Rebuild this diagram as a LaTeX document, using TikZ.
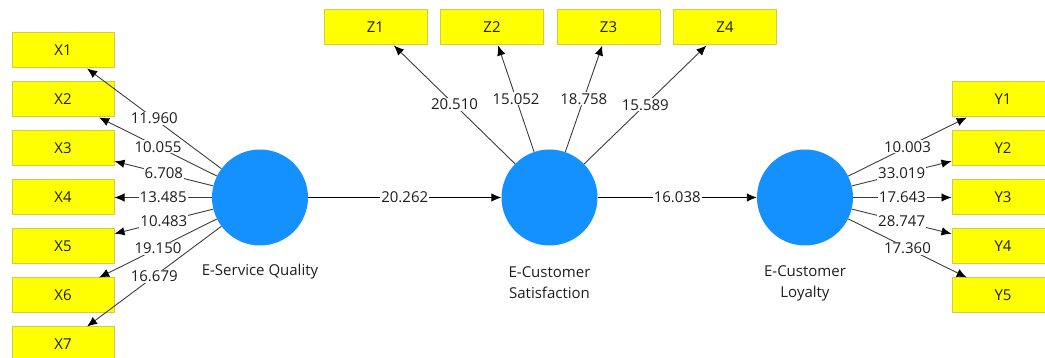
\documentclass[tikz,border=0pt]{standalone}
\usepackage{fontspec}
\setmainfont{Open Sans}
\usetikzlibrary{arrows.meta}
\definecolor{boxfill}{RGB}{255,255,0}
\definecolor{boxline}{RGB}{205,205,70}
\definecolor{lvblue}{RGB}{20,144,255}
\definecolor{indline}{RGB}{60,60,60}
\definecolor{txt}{RGB}{30,30,30}
\tikzset{
  mv/.style={draw=boxline, fill=boxfill, line width=1pt, minimum width=102pt, minimum height=35pt, inner sep=0pt, font=\fontsize{15}{18}\selectfont, text=txt},
  lv/.style={circle, fill=lvblue, minimum size=96pt, inner sep=0pt},
  lvlabel/.style={font=\fontsize{15}{21}\selectfont, text=txt, align=center, inner sep=0pt},
  ind/.style={draw=indline, line width=0.9pt, -{Latex[length=10pt,width=8.5pt,black]}},
  path/.style={draw=black, line width=0.9pt, -{Latex[length=10pt,width=8.5pt,black]}},
  coef/.style={fill=white, inner sep=1pt, font=\fontsize{15}{18}\selectfont, text=txt, pos=0.5}
}
\begin{document}
\begin{tikzpicture}[x=1pt,y=-1pt]
\useasboundingbox (0,0) rectangle (1045,358);
% latent variables
\node[lv] (esq) at (260,197.5) {};
\node[lv] (ecs) at (549.5,197.5) {};
\node[lv] (ecl) at (805,197.5) {};
\node[lvlabel] (esqlab) at (260,272) {E-Service Quality};
\node[lvlabel] (ecslab) at (549.5,283) {E-Customer\\Satisfaction};
\node[lvlabel] (ecllab) at (805,283) {E-Customer\\Loyalty};
% X indicators
\node[mv] (x1) at (63,50.5) {X1};
\node[mv] (x2) at (63,99.5) {X2};
\node[mv] (x3) at (63,148.5) {X3};
\node[mv] (x4) at (63,197.5) {X4};
\node[mv] (x5) at (63,246.5) {X5};
\node[mv] (x6) at (63,295.5) {X6};
\node[mv] (x7) at (63,344.5) {X7};
% Z indicators
\node[mv, minimum width=103pt] (z1) at (375.5,27.5) {Z1};
\node[mv, minimum width=103pt] (z2) at (492,27.5) {Z2};
\node[mv, minimum width=103pt] (z3) at (608.5,27.5) {Z3};
\node[mv, minimum width=103pt] (z4) at (725,27.5) {Z4};
% Y indicators
\node[mv] (y1) at (1003,99.5) {Y1};
\node[mv] (y2) at (1003,148.5) {Y2};
\node[mv] (y3) at (1003,197.5) {Y3};
\node[mv] (y4) at (1003,246.5) {Y4};
\node[mv] (y5) at (1003,295.5) {Y5};
% outer loadings
\draw[ind] (esq) -- node[coef] {11.960} (x1);
\draw[ind] (esq) -- node[coef] {10.055} (x2);
\draw[ind] (esq) -- node[coef] {6.708} (x3);
\draw[ind] (esq) -- node[coef] {13.485} (x4);
\draw[ind] (esq) -- node[coef] {10.483} (x5);
\draw[ind] (esq) -- node[coef] {19.150} (x6);
\draw[ind] (esq) -- node[coef] {16.679} (x7);
\draw[ind] (ecs) -- node[coef] {20.510} (z1);
\draw[ind] (ecs) -- node[coef] {15.052} (z2);
\draw[ind] (ecs) -- node[coef] {18.758} (z3);
\draw[ind] (ecs) -- node[coef] {15.589} (z4);
\draw[ind] (ecl) -- node[coef] {10.003} (y1);
\draw[ind] (ecl) -- node[coef] {33.019} (y2);
\draw[ind] (ecl) -- node[coef] {17.643} (y3);
\draw[ind] (ecl) -- node[coef] {28.747} (y4);
\draw[ind] (ecl) -- node[coef] {17.360} (y5);
% structural paths
\draw[path] (esq) -- node[coef] {20.262} (ecs);
\draw[path] (ecs) -- node[coef] {16.038} (ecl);
\end{tikzpicture}
\end{document}
